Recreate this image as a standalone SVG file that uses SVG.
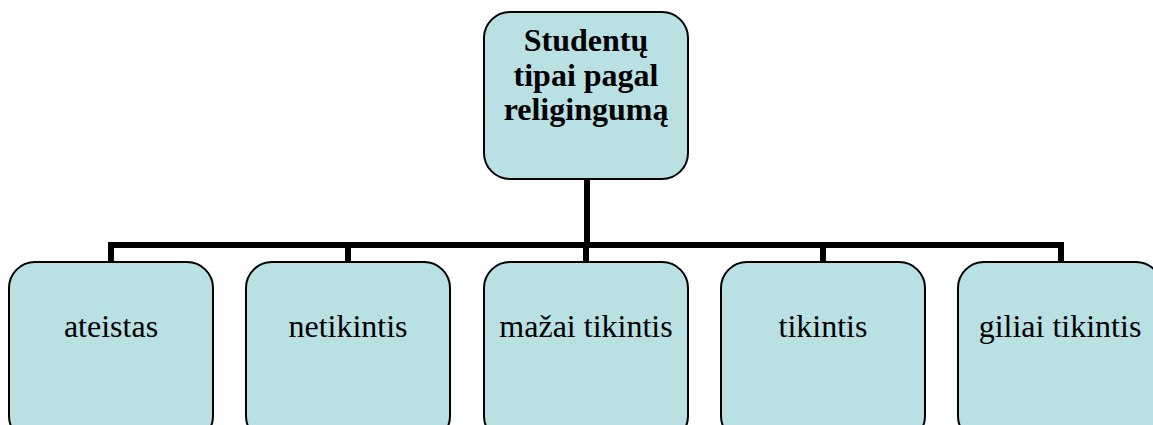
<svg xmlns="http://www.w3.org/2000/svg" width="1153" height="425" viewBox="0 0 1153 425">
<style>
.box{fill:#b9e0e3;stroke:#000;stroke-width:2}
.t{font-family:"Liberation Serif",serif;font-size:32px;fill:#000;text-anchor:middle}
.b{font-weight:bold}
.c{fill:none;stroke:#000;stroke-width:6}
</style>
<rect width="1153" height="425" fill="#fff"/>
<g id="connectors">
<path class="c" d="M587 179V245M111 262V245H1061V262M348 245V262M586 245V262M823 245V262"/>
</g>
<g id="root">
<rect class="box" x="484" y="12" width="204" height="167" rx="26"/>
<text class="t b" x="586" y="51">Studentų</text>
<text class="t b" x="586" y="86">tipai pagal</text>
<text class="t b" x="586" y="120">religingumą</text>
</g>
<g id="n1"><rect class="box" x="9" y="262" width="204" height="180" rx="26"/><text class="t" x="111" y="337">ateistas</text></g>
<g id="n2"><rect class="box" x="246" y="262" width="204" height="180" rx="26"/><text class="t" x="348" y="337">netikintis</text></g>
<g id="n3"><rect class="box" x="484" y="262" width="204" height="180" rx="26"/><text class="t" x="586" y="337">mažai tikintis</text></g>
<g id="n4"><rect class="box" x="721" y="262" width="204" height="180" rx="26"/><text class="t" x="823" y="337">tikintis</text></g>
<g id="n5"><rect class="box" x="958" y="262" width="204" height="180" rx="26"/><text class="t" x="1060" y="337">giliai tikintis</text></g>
</svg>
